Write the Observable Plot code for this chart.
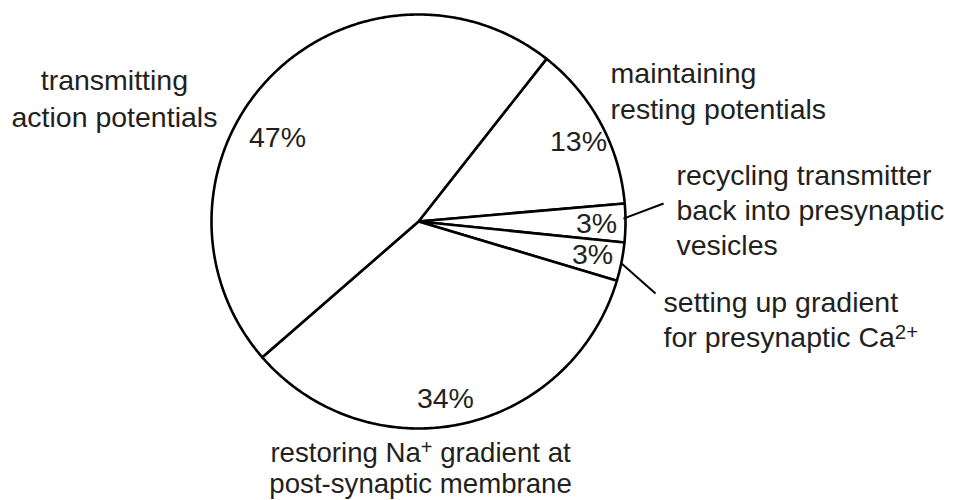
<!DOCTYPE html>
<html>
<head>
<meta charset="utf-8">
<script src="https://cdn.jsdelivr.net/npm/d3@7"></script>
<script src="https://cdn.jsdelivr.net/npm/@observablehq/plot@0.6"></script>
<style>
  html, body { margin: 0; padding: 0; background: #fff; }
  #chart { width: 956px; height: 500px; }
</style>
</head>
<body>
<div id="chart"></div>
<script>
// ---- data ----
const categories = [
  "maintaining\nresting potentials",
  "recycling transmitter\nback into presynaptic\nvesicles",
  "setting up gradient\nfor presynaptic Ca²⁺",
  "restoring Na⁺ gradient at\npost-synaptic membrane",
  "transmitting\naction potentials"
];
const values = [13, 3, 3, 34, 47];
const percentLabels = ["13%", "3%", "3%", "34%", "47%"];

// ---- layout (unit-circle coordinates, pie radius = 1) ----
const startAngle = 38.2; // degrees clockwise from north
const pctX = [0.773, 0.860, 0.841, 0.130, -0.681];
const pctY = [0.386, -0.010, -0.159, -0.855, 0.406];
const catX = [0.928, 1.246, 1.184, 0.010, -1.469];
const catY = [0.636, 0.062, -0.468, -1.190, 0.602];
const catAnchor = ["start", "start", "start", "middle", "middle"];
const catLineHeight = [1.24, 1.24, 1.24, 1.13, 1.28];
const catFontScale = [1, 1, 1, 0.97, 1];
const leaders = [
  {x1: 0.990, y1: 0.014, x2: 1.184, y2: 0.087},
  {x1: 0.981, y1: -0.203, x2: 1.145, y2: -0.348}
];

// ---- build slice polygons from values ----
const total = d3.sum(values);
const slicePts = [];
let acc = 0;
values.forEach((v, i) => {
  const a0 = startAngle + acc / total * 360;
  acc += v;
  const a1 = startAngle + acc / total * 360;
  slicePts.push({slice: i, x: 0, y: 0});
  const n = Math.max(2, Math.ceil(a1 - a0) * 2);
  for (let k = 0; k <= n; k++) {
    const a = (a0 + (a1 - a0) * k / n) * Math.PI / 180;
    slicePts.push({slice: i, x: Math.sin(a), y: Math.cos(a)});
  }
});

const pct = values.map((v, i) => ({label: percentLabels[i], x: pctX[i], y: pctY[i]}));
const cats = categories.map((c, i) => ({label: c, x: catX[i], y: catY[i], anchor: catAnchor[i],
  lh: catLineHeight[i], fsScale: catFontScale[i]}));

const cx = 418, cy = 221, R = 207;
const font = "'Liberation Sans', Arial, Helvetica, sans-serif";
const textColor = "#231f20";
const fs = 28.5;

const catMarks = cats.map(d => Plot.text([d], {x: "x", y: "y", text: "label", fontSize: fs * d.fsScale,
  fill: textColor, textAnchor: d.anchor, lineAnchor: "middle", lineHeight: d.lh}));

const chart = Plot.plot({
  width: 956,
  height: 500,
  margin: 0,
  x: {domain: [-1, 1], range: [cx - R, cx + R], axis: null},
  y: {domain: [-1, 1], range: [cy + R, cy - R], axis: null},
  style: {fontFamily: font, background: "#fff", overflow: "visible"},
  marks: [
    Plot.line(slicePts, {x: "x", y: "y", z: "slice", curve: "linear-closed",
      fill: "white", stroke: "black", strokeWidth: 2.6, strokeLinejoin: "round"}),
    Plot.link(leaders, {x1: "x1", y1: "y1", x2: "x2", y2: "y2", stroke: "black", strokeWidth: 2}),
    Plot.text(pct, {x: "x", y: "y", text: "label", fontSize: fs, fill: textColor,
      textAnchor: "middle", lineAnchor: "middle"}),
    ...catMarks
  ]
});

// render ion charges as true superscripts
const supMap = {"Ca²⁺": ["Ca", "2+"], "Na⁺": ["Na", "+"]};
chart.querySelectorAll("tspan").forEach(ts => {
  const t = ts.textContent;
  for (const key of Object.keys(supMap)) {
    const idx = t.indexOf(key);
    if (idx >= 0) {
      const [base, sup] = supMap[key];
      const before = t.slice(0, idx) + base;
      const after = t.slice(idx + key.length);
      ts.textContent = "";
      ts.appendChild(document.createTextNode(before));
      const s = document.createElementNS("http://www.w3.org/2000/svg", "tspan");
      s.setAttribute("baseline-shift", "38%");
      s.setAttribute("font-size", "72%");
      s.textContent = sup;
      ts.appendChild(s);
      if (after) ts.appendChild(document.createTextNode(after));
      break;
    }
  }
});
document.getElementById("chart").appendChild(chart);
</script>
</body>
</html>
